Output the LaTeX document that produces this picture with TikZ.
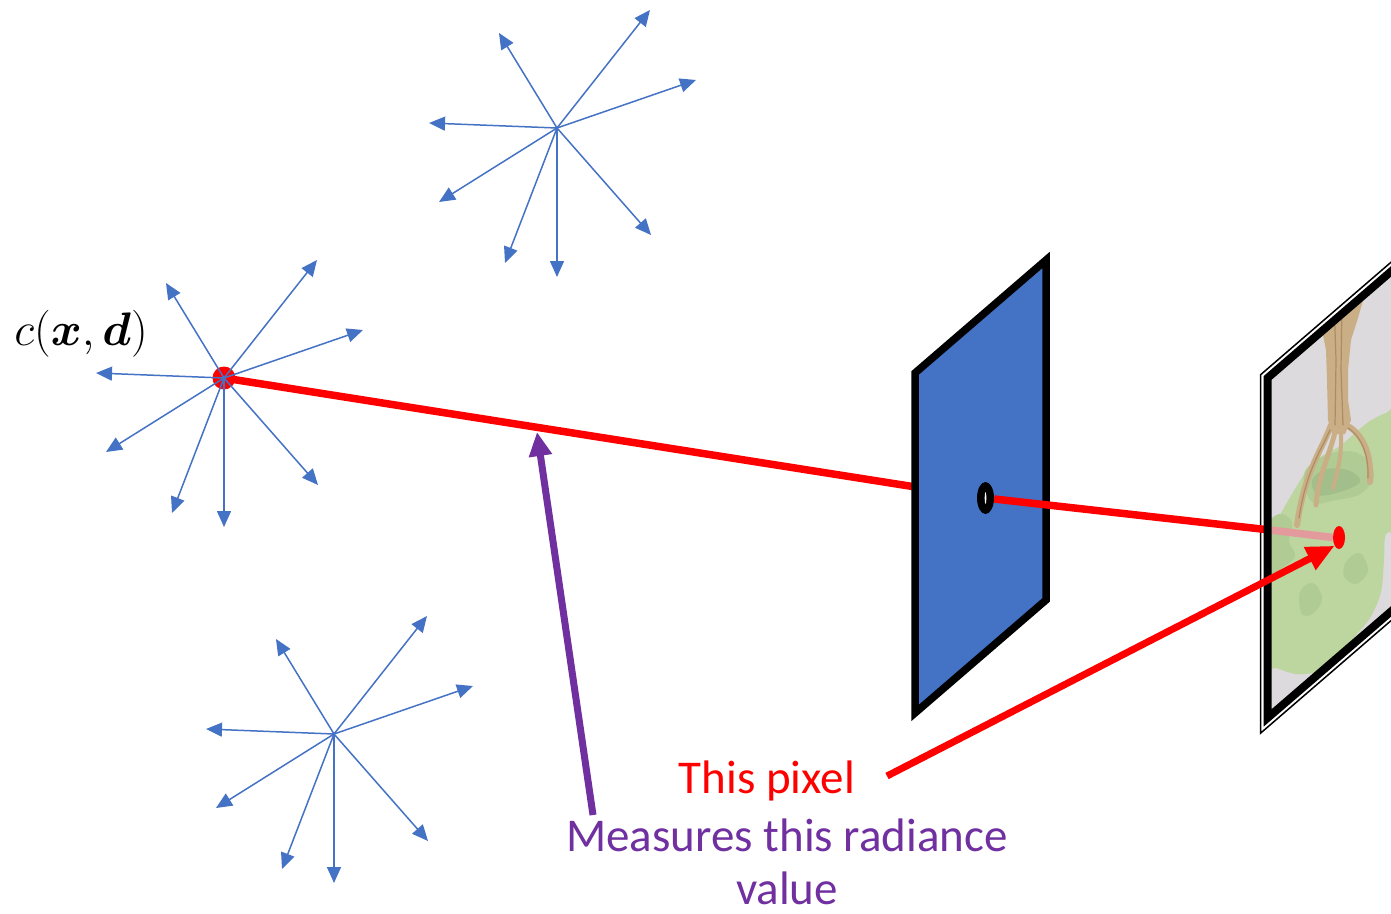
\RequirePackage{fix-cm}
\documentclass[tikz,border=0pt]{standalone}
\usepackage{amsmath}
\usepackage{fontspec}
\newfontfamily\labelfont{Carlito}
\usetikzlibrary{arrows.meta,shapes.geometric}

\definecolor{rayblue}{HTML}{4472C4}
\definecolor{panelblue}{HTML}{4472C4}
\definecolor{measure}{HTML}{7030A0}
\definecolor{pxred}{HTML}{FF0000}
\definecolor{filmgrey}{HTML}{DCDADC}
\definecolor{leaf}{HTML}{BDD59E}
\definecolor{leafdark}{HTML}{B0CB94}
\definecolor{leafdeep}{HTML}{A2BE8A}
\definecolor{bark}{HTML}{C9AE86}
\definecolor{barkdark}{HTML}{AE8C62}
\definecolor{rayfade}{HTML}{E39A9C}

\tikzset{
  ray/.style={rayblue, line width=1.5pt, -{Triangle[length=16pt,width=14pt]}},
  redray/.style={pxred, line width=7.5pt},
  pointer/.style={line width=7pt},
  caption/.style={font=\labelfont\fontsize{47}{55}\selectfont, inner sep=0pt, anchor=base},
  root/.style={bark, line width=6pt, line cap=round},
  streak/.style={barkdark, line width=1.2pt, line cap=round},
}

\begin{document}
\begin{tikzpicture}[x=1pt,y=-1pt]
\useasboundingbox (0,0) rectangle (1391,913);
\clip (0,0) rectangle (1391,913);

% emission points
\coordinate (s1) at (224,378);
\coordinate (s2) at (557,128);
\coordinate (s3) at (334,734);
\coordinate (holec) at (985.5,498);

% camera ray through the pinhole
\node[circle, fill=pxred, minimum size=23pt, inner sep=0pt] (src) at (s1) {};
\draw[redray] (src.center) -- (holec);

% radiance leaving each point in all directions
\foreach \s in {s1,s2,s3}
  \foreach \dx/\dy in {-58/-95, 93/-118, 139/-48, -128/-5, -118/74, -52/135, 0/149, 94/107}
    \draw[ray] (\s) -- ++(\dx,\dy);

% pinhole screen
\draw[fill=panelblue, line width=7.5pt, line join=miter]
  (915,373) -- (1046,260) -- (1046,600) -- (915,713) -- cycle;
\node[ellipse, fill=black, minimum width=17pt, minimum height=32pt, inner sep=0pt] (hole) at (holec) {};
\fill[white] (hole.center) ellipse[x radius=0.8pt, y radius=6pt];

% image plane: thin outer frame
\filldraw[fill=white, draw=black, line width=1.5pt]
  (1420,237.2) -- (1260.5,374.8) -- (1260.5,733.2) -- (1420,595.6);

% image plane: picture of a tree
\begin{scope}
  \clip (1267.5,378) -- (1398.5,265) -- (1398.5,605) -- (1267.5,718) -- cycle;
  \fill[filmgrey] (1255,250) rectangle (1405,730);
  % foliage
  \fill[leaf] plot[smooth cycle, tension=0.5] coordinates {
    (1262,560) (1270,536) (1280,515) (1292,494) (1306,472) (1322,456) (1340,446)
    (1356,432) (1370,421) (1386,413) (1402,410) (1402,522) (1386,534) (1384,560)
    (1381,592) (1370,618) (1352,640) (1338,662) (1318,672) (1296,674) (1276,668) (1262,664)};
  \fill[leafdark] plot[smooth cycle, tension=0.6] coordinates {
    (1265,530) (1279,514) (1292,522) (1289,541) (1295,556) (1282,568) (1268,572)};
  \fill[leafdark] plot[smooth cycle, tension=0.6] coordinates {
    (1304,474) (1322,457) (1346,451) (1364,457) (1374,476) (1360,494) (1336,500) (1312,502)};
  \fill[leafdark] plot[smooth cycle, tension=0.6] coordinates {
    (1300,592) (1313,583) (1322,598) (1314,613) (1302,614)};
  \fill[leafdark] plot[smooth cycle, tension=0.6] coordinates {
    (1346,562) (1360,553) (1368,571) (1356,584) (1344,576)};
  \fill[leafdeep] plot[smooth cycle, tension=0.6] coordinates {
    (1312,480) (1327,469) (1350,471) (1360,482) (1340,492) (1318,495)};
  % trunk and roots
  \fill[bark] (1314,290) -- (1366,290) -- (1358,318) -- (1351,340) -- (1348,370) -- (1348,400)
    -- (1351,420) -- (1345,434) -- (1332,434) -- (1328,420) -- (1327,380) -- (1326,350)
    -- (1320,320) -- cycle;
  \draw[root] (1331,425) .. controls (1322,450) and (1305,470) .. (1297,525);
  \draw[root, line width=5pt] (1336,428) .. controls (1330,455) and (1318,475) .. (1316,505);
  \draw[root, line width=4pt] (1341,430) .. controls (1342,455) and (1338,470) .. (1333,488);
  \draw[root] (1346,425) .. controls (1360,432) and (1372,450) .. (1370,482);
  \draw[streak] (1334,300) -- (1336,360) -- (1335,425);
  \draw[streak] (1342,300) -- (1341,370) -- (1343,425);
  \draw[streak] (1330,430) .. controls (1320,452) and (1306,472) .. (1299,518);
  \draw[streak] (1348,428) .. controls (1360,436) and (1369,452) .. (1368,478);
\end{scope}

% ray behind the image plane and the pixel it lands on
\node[ellipse, fill=pxred, minimum width=12pt, minimum height=23pt, inner sep=0pt] (pix) at (1339,537.5) {};
\coordinate (edge) at (1267.5,529.7);
\draw[rayfade, line width=7.5pt] (edge) -- (pix.west);
\draw[redray] (hole) -- (edge);

% image plane: thick frame
\draw[line width=8pt, line join=miter]
  (1267.5,378) -- (1398.5,265) -- (1398.5,605) -- (1267.5,718) -- cycle;

% labels and pointers
\node[anchor=base, inner sep=0pt, font=\fontsize{47}{56}\selectfont] (cxd) at (81,345)
  {$c(\boldsymbol{x},\boldsymbol{d})$};
\node[caption, text=pxred] (thispx) at (767,793) {This pixel};
\node[caption, text=measure] (meas) at (787,851) {Measures this radiance};
\node[caption, text=measure] (val) at (787,904) {value};

\coordinate (pxtail) at (887,776);
\coordinate (mtail) at (593,815);
\coordinate (mtip) at (537,432);
\draw[pointer, pxred, -{Triangle[length=28pt,width=24pt]}] (pxtail) -- (pix.south west);
\draw[pointer, measure, -{Triangle[length=24pt,width=22pt]}] (mtail) -- (mtip);
\end{tikzpicture}
\end{document}
